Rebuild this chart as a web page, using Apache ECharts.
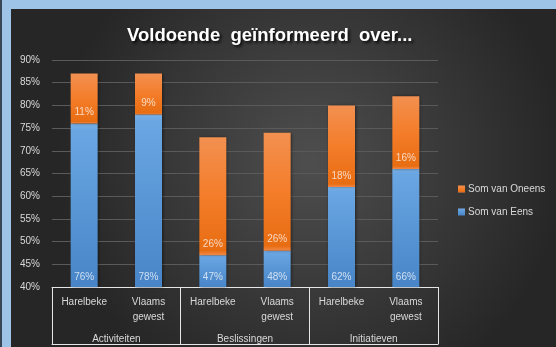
<!DOCTYPE html>
<html>
<head>
<meta charset="utf-8">
<script src="https://cdn.jsdelivr.net/npm/echarts@6/dist/echarts.min.js"></script>
<style>
  html, body { margin: 0; padding: 0; }
  body {
    width: 556px; height: 347px; overflow: hidden;
    background: linear-gradient(to right, #3a4656 0px, #3a4656 2px, #9dc3e6 2px);
    position: relative;
  }
  #chart { position: absolute; left: 11px; top: 9px; width: 545px; height: 338px; }
</style>
</head>
<body>
<div id="chart"></div>
<script>
// Sub-categories (bottom row of the axis) and their groups
const places = ['Harelbeke', 'Vlaams\ngewest', 'Harelbeke', 'Vlaams\ngewest', 'Harelbeke', 'Vlaams\ngewest'];
const groups = ['Activiteiten', 'Beslissingen', 'Initiatieven'];

// Shares in percent
const eens = [76, 78, 47, 48, 62, 66];
const oneens = [11, 9, 26, 26, 18, 16];

const axisMin = 40;
const axisMax = 90;
const axisStep = 5;

const FONT = 'Liberation Sans, Arial, sans-serif';
const TXT = '#d9d9d9';
const LABEL = 'rgba(255,255,255,0.72)';

const chart = echarts.init(document.getElementById('chart'));

const grad = (stops) => ({
  type: 'linear', x: 0, y: 0, x2: 0, y2: 1,
  colorStops: stops.map(([o, c]) => ({ offset: o, color: c }))
});

chart.setOption({
  backgroundColor: {
    type: 'radial', x: 0.55, y: 0.45, r: 0.75,
    colorStops: [{ offset: 0, color: '#4e4e4e' }, { offset: 1, color: '#262626' }]
  },
  title: {
    text: 'Voldoende  geïnformeerd  over...',
    left: 111,
    top: 12,
    textStyle: {
      color: '#ffffff', fontSize: 18.5, fontWeight: 'bold', fontFamily: FONT,
      textShadowColor: 'rgba(0,0,0,0.85)', textShadowBlur: 3, textShadowOffsetX: 2, textShadowOffsetY: 2
    }
  },
  legend: {
    orient: 'vertical',
    left: 442,
    top: 170,
    itemWidth: 7,
    itemHeight: 7,
    itemGap: 13,
    icon: 'rect',
    data: ['Som van Oneens', 'Som van Eens'],
    textStyle: { color: TXT, fontSize: 10, fontFamily: FONT, padding: [0, 0, 0, -2] }
  },
  grid: { left: 41, right: 118, top: 51, bottom: 60 },
  xAxis: [
    {
      type: 'category',
      data: places,
      axisLine: { lineStyle: { color: '#e6e6e6', width: 1 } },
      axisTick: { show: false },
      axisLabel: { color: TXT, fontSize: 10, fontFamily: FONT, margin: 8, lineHeight: 15, interval: 0, align: 'center' }
    },
    {
      type: 'category',
      position: 'bottom',
      offset: 57,
      data: groups,
      axisLine: { lineStyle: { color: '#e6e6e6', width: 1 } },
      axisTick: { show: true, inside: true, length: 57, alignWithLabel: false, lineStyle: { color: '#e6e6e6' } },
      axisLabel: { inside: true, color: TXT, fontSize: 10, fontFamily: FONT, margin: 0, verticalAlign: 'bottom' }
    }
  ],
  yAxis: {
    type: 'value',
    min: axisMin,
    max: axisMax,
    interval: axisStep,
    axisLine: { show: false },
    axisTick: { show: false },
    splitLine: { lineStyle: { color: '#5a5a5a', width: 1 } },
    axisLabel: { color: TXT, fontSize: 10, fontFamily: FONT, formatter: '{value}%', margin: 12 }
  },
  series: [
    {
      name: 'Som van Eens',
      type: 'bar',
      stack: 'total',
      barWidth: 27,
      data: eens,
      itemStyle: {
        color: grad([[0, '#7ab2e8'], [0.04, '#6aa6e2'], [1, '#4785c8']]),
        shadowColor: 'rgba(0,0,0,0.5)', shadowBlur: 3, shadowOffsetX: 1
      },
      label: {
        show: true, position: 'insideBottom', distance: 5,
        formatter: '{c}%', color: LABEL, fontSize: 10, fontFamily: FONT
      }
    },
    {
      name: 'Som van Oneens',
      type: 'bar',
      stack: 'total',
      barWidth: 27,
      data: oneens,
      itemStyle: {
        color: grad([[0, '#f29050'], [0.5, '#f47d2a'], [0.96, '#e86d12'], [1, '#f08a4a']]),
        shadowColor: 'rgba(0,0,0,0.5)', shadowBlur: 3, shadowOffsetX: 1
      },
      label: {
        show: true, position: 'insideBottom', distance: 6,
        formatter: '{c}%', color: LABEL, fontSize: 10, fontFamily: FONT
      }
    }
  ]
});
</script>
</body>
</html>
